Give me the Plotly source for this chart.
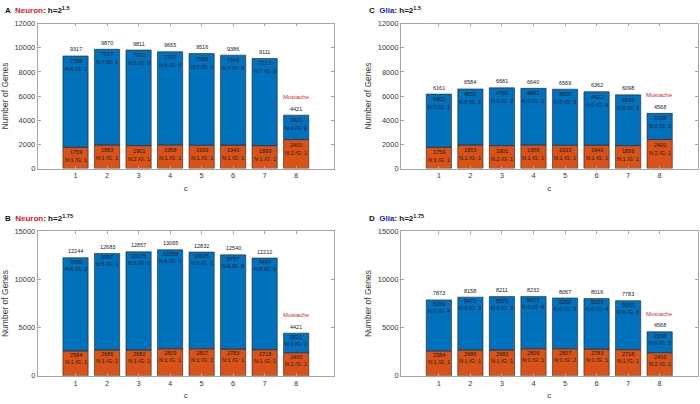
import plotly.graph_objects as go

categories = [1, 2, 3, 4, 5, 6, 7, 8]
tick_labels = ["1", "2", "3", "4", "5", "6", "7", "8"]

# Panel A: Neuron h=2^1.5
a_orange = [1759, 1953, 1901, 1958, 1933, 1940, 1899, 2400]
a_blue = [7558, 7917, 7910, 7707, 7583, 7446, 7212, 2021]
a_orange_lab = ["N:1 /G: 1", "N:1 /G: 1", "N:2 /G: 1", "N:1 /G: 1", "N:1 /G: 1", "N:1 /G: 1", "N:1 /G: 1", "N:2 /G: 1"]
a_blue_lab = ["N:6 /G: 1", "N:7 /G: 1", "N:5 /G: 0", "N:6 /G: 0", "N:7 /G: 0", "N:7 /G: 0", "N:7 /G: 0", "N:4 /G: 0"]

# Panel B: Neuron h=2^1.75
b_orange = [2584, 2686, 2682, 2809, 2807, 2783, 2718, 2400]
b_blue = [9660, 9997, 10175, 10256, 10025, 9757, 9494, 2021]
b_orange_lab = ["N:1 /G: 1", "N:1 /G: 1", "N:1 /G: 1", "N:1 /G: 1", "N:1 /G: 2", "N:1 /G: 1", "N:1 /G: 1", "N:2 /G: 1"]
b_blue_lab = ["N:6 /G: 0", "N:5 /G: 0", "N:6 /G: 0", "N:6 /G: 0", "N:6 /G: 0", "N:6 /G: 0", "N:6 /G: 0", "N:4 /G: 0"]

# Panel C: Glia h=2^1.5
c_orange = [1759, 1953, 1901, 1958, 1933, 1940, 1899, 2400]
c_blue = [4402, 4631, 4780, 4682, 4636, 4422, 4199, 2168]
c_orange_lab = ["N:1 /G: 1", "N:1 /G: 1", "N:2 /G: 1", "N:1 /G: 1", "N:1 /G: 1", "N:1 /G: 1", "N:1 /G: 1", "N:2 /G: 1"]
c_blue_lab = ["N:0 /G: 1", "N:0 /G: 2", "N:0 /G: 3", "N:0 /G: 2", "N:0 /G: 3", "N:0 /G: 4", "N:0 /G: 3", "N:0 /G: 3"]

# Panel D: Glia h=2^1.75
d_orange = [2584, 2686, 2682, 2809, 2807, 2783, 2718, 2400]
d_blue = [5289, 5472, 5529, 5423, 5260, 5233, 5065, 2168]
d_orange_lab = ["N:1 /G: 1", "N:1 /G: 1", "N:1 /G: 1", "N:1 /G: 1", "N:1 /G: 2", "N:1 /G: 1", "N:1 /G: 1", "N:2 /G: 1"]
d_blue_lab = ["N:0 /G: 4", "N:0 /G: 3", "N:0 /G: 3", "N:0 /G: 4", "N:0 /G: 3", "N:0 /G: 4", "N:0 /G: 3", "N:0 /G: 3"]

a_yticks = [0, 2000, 4000, 6000, 8000, 10000, 12000]
b_yticks = [0, 5000, 10000, 15000]

BLUE = "#0072BD"
ORANGE = "#D95319"
FONT = "Liberation Sans"
W, H = 700, 404

panels = [
    dict(key="", letter="A", cell="Neuron", ccol="#e3141c", exp="1.5", orange=a_orange, blue=a_blue,
         olab=a_orange_lab, blab=a_blue_lab, ymax=12000, yticks=a_yticks,
         px=(37.7, 334.0), py=(20.0, 168.3), s1=5, s2=13),
    dict(key="2", letter="B", cell="Neuron", ccol="#e3141c", exp="1.75", orange=b_orange, blue=b_blue,
         olab=b_orange_lab, blab=b_blue_lab, ymax=15000, yticks=b_yticks,
         px=(37.7, 334.0), py=(232.3, 380.3), s1=4, s2=11),
    dict(key="3", letter="C", cell="Glia", ccol="#2323c8", exp="1.5", orange=c_orange, blue=c_blue,
         olab=c_orange_lab, blab=c_blue_lab, ymax=12000, yticks=a_yticks,
         px=(401.0, 697.5), py=(20.0, 168.3), s1=5, s2=13),
    dict(key="4", letter="D", cell="Glia", ccol="#2323c8", exp="1.75", orange=d_orange, blue=d_blue,
         olab=d_orange_lab, blab=d_blue_lab, ymax=15000, yticks=b_yticks,
         px=(401.0, 697.5), py=(232.3, 380.3), s1=4, s2=11),
]

fig = go.Figure()
annotations = []
layout = {}

for p in panels:
    k = p["key"]
    xr, yr = "x" + k, "y" + k
    fig.add_trace(go.Bar(x=categories, y=p["orange"], xaxis=xr, yaxis=yr, width=0.8,
                         marker=dict(color=ORANGE, line=dict(color="#222222", width=0.6)),
                         showlegend=False, hoverinfo="skip"))
    fig.add_trace(go.Bar(x=categories, y=p["blue"], base=p["orange"], xaxis=xr, yaxis=yr, width=0.8,
                         marker=dict(color=BLUE, line=dict(color="#222222", width=0.6)),
                         showlegend=False, hoverinfo="skip"))
    axis_common = dict(showline=True, linecolor="#a6a6a6", linewidth=0.8, mirror="ticks",
                       ticks="inside", ticklen=3, tickcolor="#a6a6a6", tickwidth=0.8,
                       showgrid=False, zeroline=False,
                       tickfont=dict(family=FONT, size=7.5, color="#3a3a3a"))
    layout["xaxis" + k] = dict(axis_common, domain=[p["px"][0] / W, p["px"][1] / W],
                               range=[-0.2, 9.2], tickvals=categories, ticktext=tick_labels,
                               anchor=yr, fixedrange=True,
                               title=dict(text="c", font=dict(family=FONT, size=8, color="#3a3a3a"), standoff=5))
    layout["yaxis" + k] = dict(axis_common, domain=[1 - p["py"][1] / H, 1 - p["py"][0] / H],
                               range=[0, p["ymax"]], tickvals=p["yticks"],
                               ticktext=[str(v) for v in p["yticks"]], anchor=xr, fixedrange=True,
                               title=dict(text="Number of Genes", font=dict(family=FONT, size=8.5, color="#3a3a3a"), standoff=4))
    # texts
    for i, c in enumerate(categories):
        o = p["orange"][i]
        b = p["blue"][i]
        tot = o + b
        tf = dict(family=FONT, size=5.5, color="#1a1a1a")
        annotations.append(dict(x=c, y=tot, xref=xr, yref=yr, text=str(tot), showarrow=False,
                                yshift=6.5, font=tf, yanchor="middle"))
        annotations.append(dict(x=c, y=tot, xref=xr, yref=yr, text=str(b), showarrow=False,
                                yshift=-p["s1"], font=tf, yanchor="middle"))
        annotations.append(dict(x=c, y=tot, xref=xr, yref=yr, text=p["blab"][i], showarrow=False,
                                yshift=-p["s2"], font=tf, yanchor="middle"))
        annotations.append(dict(x=c, y=o, xref=xr, yref=yr, text=str(o), showarrow=False,
                                yshift=-p["s1"], font=tf, yanchor="middle"))
        annotations.append(dict(x=c, y=o, xref=xr, yref=yr, text=p["olab"][i], showarrow=False,
                                yshift=-p["s2"], font=tf, yanchor="middle"))
    last = categories[-1]
    annotations.append(dict(x=last, y=p["orange"][-1] + p["blue"][-1], xref=xr, yref=yr, text="Mustache",
                            showarrow=False, yshift=18, yanchor="middle",
                            font=dict(family=FONT, size=6, color="#d42a2a")))
    # panel title
    tx = 2.5 if p["letter"] in "AB" else 366.5
    ty = p["py"][0] - 13.5
    annotations.append(dict(x=tx / W, y=1 - ty / H, xref="paper", yref="paper", xanchor="left", yanchor="middle",
                            showarrow=False,
                            text="<b>%s  <span style='color:%s'>%s</span>: h=2<sup>%s</sup></b>" % (
                                p["letter"], p["ccol"], p["cell"], p["exp"]),
                            font=dict(family=FONT, size=8, color="#111111")))

fig.update_layout(**layout)
fig.update_layout(width=W, height=H, margin=dict(l=0, r=0, t=0, b=0), barmode="overlay",
                  plot_bgcolor="white", paper_bgcolor="white", annotations=annotations,
                  font=dict(family=FONT))

fig.write_html("out.html")
